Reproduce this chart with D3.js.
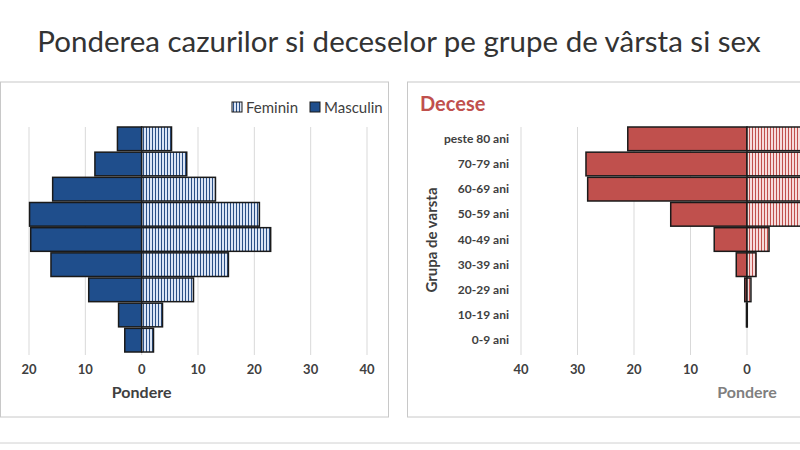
<!DOCTYPE html>
<html><head><meta charset="utf-8">
<script src="https://cdn.jsdelivr.net/npm/d3@7"></script>
<style>body{margin:0;background:#fff}svg{font-family:Lato,"Open Sans",sans-serif}</style>
</head><body>
<svg id="c" width="800" height="450"></svg>
<script>
const groups = ["peste 80 ani","70-79 ani","60-69 ani","50-59 ani","40-49 ani","30-39 ani","20-29 ani","10-19 ani","0-9 ani"];
const casesMasc = [4.3,8.3,15.8,19.9,19.7,16.1,9.4,4.1,3.0];
const casesFem  = [5.3,8.0,13.1,20.9,22.9,15.4,9.2,3.7,2.1];
const deathsMasc = [21.1,28.5,28.2,13.5,5.8,1.9,0.4,0.1,0];
const deathsFem  = [27,23,15,10,3.9,1.6,0.7,0.05,0];
const leftTicks = [-20,-10,0,10,20,30,40];
const rightTicks = [-40,-30,-20,-10,0,10,20,30,40];
const rightTickLabels = [-40,-30,-20,-10,0];

const svg = d3.select("#c");
const defs = svg.append("defs");
function stripes(id, bg, line){
  const p = defs.append("pattern").attr("id",id).attr("patternUnits","userSpaceOnUse").attr("width",3).attr("height",4);
  p.append("rect").attr("width",3).attr("height",4).attr("fill",bg);
  p.append("rect").attr("x",2).attr("width",1).attr("height",4).attr("fill",line);
}
stripes("pb","#dbe5f5","#2a4f85");
stripes("pr","#f6dcdc","#c0504d");

svg.append("text").attr("x",399).attr("y",52).attr("text-anchor","middle").attr("font-size",29.5).attr("fill","#333").text("Ponderea cazurilor si deceselor pe grupe de vârsta si sex");
svg.append("line").attr("x1",0).attr("x2",800).attr("y1",443).attr("y2",443).attr("stroke","#d0d0d0");

const y = d3.scaleBand().domain(groups).range([127,352]).paddingInner(0.06);

function panel(x0, x1, domain, range, ticks, labels, masc, fem, mColor, pat, grey){
  const g = svg.append("g");
  g.append("rect").attr("x",x0).attr("y",82).attr("width",x1-x0).attr("height",335).attr("fill","none").attr("stroke","#c8c8c8");
  const x = d3.scaleLinear().domain(domain).range(range);
  g.selectAll(".gl").data(ticks).join("line").attr("x1",d=>x(d)).attr("x2",d=>x(d)).attr("y1",127).attr("y2",355).attr("stroke","#d9d9d9");
  g.selectAll(".tk").data(labels).join("text").attr("x",d=>x(d)).attr("y",374).attr("text-anchor","middle").attr("font-size",13).attr("font-weight","bold").attr("fill","#404040").text(d=>Math.abs(d));
  g.selectAll(".m").data(masc).join("rect").attr("x",d=>x(-d)).attr("width",d=>x(0)-x(-d)).attr("y",(d,i)=>y(groups[i])).attr("height",y.bandwidth()).attr("fill",mColor).attr("stroke",d=>d>0?"#1a1a1a":"#888").attr("stroke-width",d=>d>0?1.5:1);
  g.selectAll(".f").data(fem).join("rect").attr("x",x(0)).attr("width",d=>x(d)-x(0)).attr("y",(d,i)=>y(groups[i])).attr("height",y.bandwidth()).attr("fill",pat).attr("stroke",d=>d>0?"#1a1a1a":"none").attr("stroke-width",1.5);
  g.append("text").attr("x",x(0)).attr("y",398).attr("text-anchor","middle").attr("font-size",16).attr("font-weight","bold").attr("fill",grey).text("Pondere");
  return x;
}
panel(0.5,388.5,[-20,40],[29,367],leftTicks,leftTicks,casesMasc,casesFem,"#1f4e8c","url(#pb)","#404040");
panel(407.5,830,[-40,40],[521,973],rightTicks,rightTickLabels,deathsMasc,deathsFem,"#c0504d","url(#pr)","#7f7f7f");

const lg = svg.append("g");
lg.append("rect").attr("x",232).attr("y",102).attr("width",10).attr("height",10).attr("fill","url(#pb)").attr("stroke","#1a1a1a");
lg.append("text").attr("x",246).attr("y",112.5).attr("font-size",15).attr("fill","#404040").text("Feminin");
lg.append("rect").attr("x",310).attr("y",102).attr("width",10).attr("height",10).attr("fill","#1f4e8c").attr("stroke","#1a1a1a");
lg.append("text").attr("x",324).attr("y",112.5).attr("font-size",15).attr("fill","#404040").text("Masculin");

svg.append("text").attr("x",420).attr("y",111).attr("font-size",20).attr("font-weight","bold").attr("fill","#c0504d").text("Decese");
svg.selectAll(".yl").data(groups).join("text").attr("x",509).attr("y",d=>y(d)+y.bandwidth()/2+4).attr("text-anchor","end").attr("font-size",12).attr("font-weight","bold").attr("fill","#404040").text(d=>d);
svg.append("text").attr("transform","translate(437,240) rotate(-90)").attr("text-anchor","middle").attr("font-size",15).attr("font-weight","bold").attr("fill","#404040").text("Grupa de varsta");
</script></body></html>
